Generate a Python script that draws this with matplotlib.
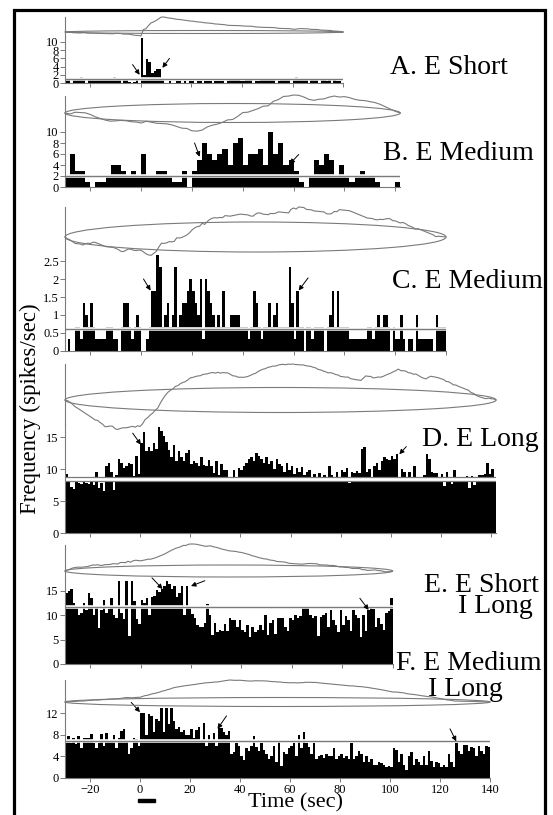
import numpy as np
import matplotlib
matplotlib.use("Agg")
import matplotlib.pyplot as plt
from matplotlib.patches import Ellipse, Rectangle
from matplotlib.transforms import blended_transform_factory

plt.rcParams['font.family'] = ['Liberation Serif', 'DejaVu Serif']

W, H = 553, 815

# ---- data (spike rates per bin) ----
bin_start = [-30, -30, -30, -30, -30, -30]
bin_width = [1, 2, 1, 1, 1, 1]

a_rate = [0.7, 0.7, 0.0, 0.7, 0.7, 0.7, 1.5, 0.7, 0.0, 0.7,
          0.7, 0.7, 0.7, 0.7, 0.7, 0.7, 0.7, 0.7, 0.7, 1.5,
          0.7, 0.7, 0.0, 0.7, 0.7, 0.3, 0.0, 0.3, 0.7, 0.0,
          11.0, 2.0, 5.8, 5.0, 2.5, 3.0, 3.5, 3.5, 1.0, 0.0,
          0.0, 0.5, 0.0, 0.0, 0.5, 0.5, 0.0, 0.5, 0.0, 0.5,
          0.5, 0.0, 0.5, 0.5, 0.0, 0.5, 0.5, 0.5, 0.0, 0.5,
          0.5, 0.5, 0.5, 0.0, 0.5, 0.7, 0.7, 0.7, 0.7, 0.5,
          0.5, 0.7, 0.7, 0.7, 0.0, 0.5, 0.5, 0.7, 0.7, 0.7,
          0.7, 0.7, 0.7, 0.0, 0.5, 0.7, 0.7, 0.7, 0.7, 0.0,
          0.7, 1.5, 1.2, 0.7, 0.7, 0.7, 0.0, 0.7, 0.7, 0.7,
          0.0, 0.7, 0.7, 0.5, 0.7, 0.0, 0.7, 0.5, 0.5, 0.0]

b_rate = [2, 6, 3, 3, 1, 0, 1, 1, 2, 4,
          4, 3, 2, 3, 2, 6, 2, 2, 3, 3,
          2, 1, 1, 3, 0, 3, 5, 8, 6, 5,
          6, 7, 4, 8, 9, 4, 6, 6, 7, 4,
          10, 6, 8, 4, 5, 3, 1, 0, 2, 5,
          4, 6, 5, 2, 4, 2, 1, 2, 3, 2,
          2, 1, 0, 0, 0, 1]

# panel C: spike counts summed over 3 trials, 1 s bins
c_counts = [0, 1, 0, 0, 2, 2, 1, 4, 3, 2,
            4, 2, 1, 1, 1, 1, 2, 2, 2, 1,
            1, 0, 2, 4, 4, 2, 1, 2, 3, 2,
            0, 0, 1, 2, 5, 5, 8, 7, 2, 3,
            4, 2, 3, 7, 2, 3, 4, 4, 5, 6,
            5, 4, 3, 6, 1, 6, 5, 4, 3, 2,
            3, 2, 5, 2, 2, 3, 3, 3, 3, 2,
            2, 2, 1, 2, 5, 4, 2, 1, 2, 2,
            4, 2, 3, 4, 2, 2, 2, 2, 7, 4,
            1, 5, 2, 2, 0, 2, 2, 1, 2, 2,
            2, 2, 0, 2, 3, 5, 2, 5, 2, 2,
            2, 2, 1, 1, 1, 1, 1, 1, 1, 2,
            2, 1, 2, 3, 2, 3, 3, 2, 0, 2,
            1, 1, 3, 1, 0, 1, 1, 0, 3, 1,
            1, 1, 1, 1, 1, 0, 3, 2, 2, 2]
c_trials = 3
c_rate = [n / c_trials for n in c_counts]

d_rate = [9.2, 8.0, 7.2, 6.8, 8.0, 7.8, 7.7, 8.0, 7.8, 7.6,
          7.9, 7.5, 9.6, 7.0, 7.8, 6.6, 10.4, 10.9, 9.6, 6.7,
          9.0, 11.5, 11.0, 10.2, 10.5, 11.0, 10.8, 8.9, 12.1, 9.2,
          14.0, 15.8, 12.8, 13.5, 12.8, 14.0, 13.2, 16.6, 16.0, 15.2,
          14.2, 13.0, 11.8, 13.8, 11.2, 12.8, 11.8, 11.2, 12.5, 12.9,
          10.8, 11.2, 11.0, 10.4, 11.8, 10.7, 10.5, 11.4, 10.5, 9.3,
          11.2, 9.0, 10.8, 9.8, 9.9, 8.2, 8.0, 9.8, 8.5, 10.1,
          9.9, 10.5, 11.0, 11.5, 11.8, 11.2, 12.5, 12.0, 11.5, 11.0,
          11.8, 10.8, 11.2, 10.0, 11.5, 10.8, 10.5, 9.5, 11.0, 9.8,
          10.5, 9.2, 10.2, 9.5, 10.3, 9.0, 9.5, 9.8, 8.8, 9.2,
          8.0, 9.4, 8.6, 9.0, 8.5, 10.5, 9.0, 8.5, 9.5, 8.0,
          9.8, 9.5, 10.2, 7.8, 9.6, 9.3, 9.7, 9.3, 13.1, 13.5,
          9.5, 10.0, 8.0, 10.5, 11.0, 9.8, 11.2, 11.9, 11.5, 11.4,
          12.0, 11.6, 12.3, 7.9, 10.0, 9.5, 8.0, 9.6, 8.4, 10.4,
          8.2, 7.9, 8.5, 9.0, 12.3, 11.6, 9.5, 9.3, 9.4, 8.7,
          9.2, 7.4, 9.6, 8.2, 7.6, 9.9, 8.3, 8.8, 8.7, 8.6,
          8.9, 7.0, 8.9, 7.5, 8.3, 9.0, 9.0, 9.2, 10.9, 9.2,
          10.0, 8.5]

e_rate = [14.5, 15.0, 15.5, 12.5, 12.0, 10.0, 10.5, 12.5, 11.0, 14.5,
          13.5, 10.0, 12.0, 7.3, 11.0, 13.2, 10.5, 11.3, 13.5, 10.0,
          9.5, 17.0, 10.5, 9.3, 17.0, 5.7, 17.0, 13.0, 9.3, 8.3,
          13.2, 12.5, 13.5, 10.0, 13.8, 14.0, 15.2, 14.8, 15.5, 16.0,
          17.0, 16.5, 15.5, 16.0, 13.8, 14.5, 16.0, 10.0, 16.0, 11.5,
          10.2, 9.5, 8.0, 7.5, 7.5, 8.5, 12.3, 10.0, 6.0, 8.5,
          6.5, 7.0, 6.8, 8.2, 6.8, 9.5, 9.0, 9.0, 7.5, 9.0,
          7.0, 6.5, 8.0, 5.5, 7.5, 6.5, 7.0, 8.0, 7.0, 10.0,
          6.0, 8.5, 9.0, 6.2, 9.5, 9.5, 9.5, 7.5, 6.8, 9.5,
          9.0, 10.0, 9.5, 9.8, 11.5, 11.5, 11.5, 10.0, 9.5, 9.8,
          5.7, 9.7, 10.0, 10.5, 7.7, 11.0, 9.0, 8.0, 6.5, 11.0,
          8.0, 9.8, 9.0, 6.8, 11.0, 10.0, 9.5, 5.5, 10.0, 6.8,
          11.0, 11.5, 11.3, 7.5, 9.5, 8.3, 7.0, 10.5, 10.8, 13.5]

f_rate = [6.5, 7.8, 6.5, 7.5, 6.3, 7.8, 5.5, 7.5, 7.5, 7.5,
          8.2, 6.5, 5.5, 6.5, 8.2, 6.0, 8.3, 6.8, 7.0, 8.0,
          5.5, 7.5, 8.7, 9.0, 7.0, 4.5, 5.5, 7.5, 7.3, 6.0,
          12.0, 12.0, 8.0, 11.8, 11.5, 8.5, 11.0, 10.5, 13.0, 8.5,
          13.0, 10.0, 13.0, 10.5, 9.0, 9.5, 8.5, 8.8, 8.0, 8.0,
          9.0, 7.5, 8.8, 9.5, 7.0, 10.2, 6.0, 8.0, 7.0, 8.3,
          6.0, 9.2, 9.2, 8.5, 8.0, 8.7, 4.5, 4.8, 6.5, 6.0,
          4.0, 3.3, 5.5, 5.0, 6.0, 7.8, 5.8, 5.0, 6.5, 5.2,
          4.5, 3.5, 4.0, 6.0, 3.0, 7.0, 2.2, 4.8, 4.5, 5.5,
          6.0, 6.5, 4.0, 8.0, 5.5, 8.5, 6.5, 5.8, 4.5, 6.5,
          3.5, 4.0, 4.2, 3.7, 4.5, 4.0, 4.0, 5.5, 3.5, 4.0,
          4.5, 3.7, 4.0, 3.5, 6.5, 3.5, 4.0, 5.0, 4.5, 3.0,
          4.0, 3.0, 3.5, 2.5, 2.5, 3.0, 2.8, 2.5, 2.0, 2.2,
          2.0, 5.5, 5.2, 3.0, 4.5, 2.5, 1.5, 4.0, 4.8, 2.5,
          3.5, 3.0, 2.5, 4.0, 2.5, 5.0, 3.2, 2.0, 3.0, 2.8,
          2.0, 2.5, 2.0, 4.5, 3.0, 2.0, 6.5, 5.0, 4.5, 6.2,
          6.2, 5.0, 5.8, 5.5, 4.0, 6.0, 5.0, 4.5, 6.0, 5.8]

rates = [a_rate, b_rate, c_rate, d_rate, e_rate, f_rate]
baseline = [1.0, 2.0, 0.6, (8.2, 8.7), 11.7, 6.9]

yticks = [[0, 2, 4, 6, 8, 10], [0, 2, 4, 6, 8, 10], [0, 0.5, 1, 1.5, 2, 2.5],
          [0, 5, 10, 15], [0, 5, 10, 15], [0, 4, 8, 12]]
ytick_labels = [['0', '2', '4', '6', '8', '10'], ['0', '2', '4', '6', '8', '10'],
                ['0', '0.5', '1', '1.5', '2', '2.5'], ['0', '5', '10', '15'],
                ['0', '5', '10', '15'], ['0', '4', '8', '12']]

# arrows: (head time, head rate, tail time, tail rate)
arrows = [[(-0.5, 2.0, -3.3, 4.5), (8.5, 3.7, 11.3, 6.0)],
          [(23, 5.5, 21, 8.0), (58.5, 4.2, 62, 5.9)],
          [(3.7, 1.68, 0.9, 2.0), (62, 1.68, 65.7, 2.03)],
          [(0.3, 13.8, -3, 15.6), (103.4, 12.3, 106.2, 13.5)],
          [(8.7, 15.4, 4.5, 17.7), (20, 16.0, 25.5, 17.1), (90.5, 11.1, 87, 13.5)],
          [(0, 12.2, -3.5, 14.0), (31, 9.1, 34.6, 11.5), (126.5, 6.8, 124, 9.1)]]

labels = [[('A. E Short', 390, 73.5)],
          [('B. E Medium', 383, 159.5)],
          [('C. E Medium', 392, 287.5)],
          [('D. E Long', 422, 446.5)],
          [('E. E Short', 424, 592.5), ('I Long', 458, 613)],
          [('F. E Medium', 396, 670.5), ('I Long', 428, 695.5)]]

stim = (-1, 6)

# ---- layout in pixels ----
# px per sec, hist zero y, px per unit, hist ymax, trace top, trace zero, trace peak, envelope half height
layout = [
    (2.53, 83, 4.1, 11.3, 17, 32, 17, 1.5),
    (2.54, 187, 5.5, 10.3, 96, 113, 95, 9.5),
    (2.54, 351, 36.0, 2.72, 207, 237, 207, 15),
    (2.506, 533, 6.4, 17.0, 364, 400, 364, 12.5),
    (2.52, 664, 4.87, 17.5, 545, 571, 544, 6),
    (2.5, 778, 5.4, 13.2, 680, 702, 680, 4.5),
]

GREY = '#7a7a7a'
X0 = 65


def px_box(x0, x1, ytop, ybot):
    return [x0 / W, 1 - ybot / H, (x1 - x0) / W, (ybot - ytop) / H]


fig = plt.figure(figsize=(W / 100, H / 100), dpi=100)

for i in range(6):
    pps, y0, ppu, ymax, t_top, t_zero, t_peak, hh = layout[i]
    vals = np.asarray(rates[i], dtype=float)
    bw = bin_width[i]
    edges = bin_start[i] + bw * np.arange(len(vals) + 1)
    xlo, xhi = edges[0], edges[-1]
    x1 = X0 + (xhi - xlo) * pps
    h_top = y0 - ymax * ppu

    # histogram
    ax = fig.add_axes(px_box(X0, x1, h_top, y0))
    ax.stairs(vals, edges, fill=True, color='black', lw=0)
    ax.set_xlim(xlo, xhi)
    ax.set_ylim(0, ymax)
    for s in ['top', 'right']:
        ax.spines[s].set_visible(False)
    for s in ['left', 'bottom']:
        ax.spines[s].set_color(GREY)
        ax.spines[s].set_linewidth(0.8)
    ax.set_yticks(yticks[i])
    ax.set_yticklabels(ytick_labels[i])
    ax.set_xticks(list(range(-20, int(xhi) + 1, 20)))
    ax.tick_params(axis='y', direction='out', length=3.5, width=0.7, color=GREY,
                   labelsize=9, pad=1)
    ax.tick_params(axis='x', direction='out', length=3, width=0.7, color=GREY,
                   labelsize=9, pad=1, labelbottom=(i == 5))
    ax.set_facecolor('none')

    b = baseline[i]
    if isinstance(b, tuple):
        ax.axhspan(b[0], b[1], color='white', lw=0)
        ax.axhline(b[0], color=GREY, lw=0.9)
        ax.axhline(b[1], color=GREY, lw=0.9)
    else:
        ax.axhline(b, color='white', lw=2.6)
        ax.axhline(b, color=GREY, lw=1.0)

    for ht, hv, tt, tv in arrows[i]:
        ax.annotate('', xy=(ht, hv), xytext=(tt, tv), annotation_clip=False,
                    arrowprops=dict(arrowstyle='-|>', color='black', lw=0.7,
                                    mutation_scale=7, shrinkA=0, shrinkB=0))

    # cumulative sum trace above
    tax = fig.add_axes(px_box(X0, x1, t_top, h_top))
    csum = np.concatenate([[0.0], np.cumsum((vals - vals.mean()) * bw)])
    scale = (t_zero - t_peak) / csum.max()
    tax.set_xlim(xlo, xhi)
    tax.set_ylim(-(h_top - t_zero) / scale, (t_zero - t_top) / scale)
    tax.add_patch(Ellipse(((xlo + xhi) / 2, 0), xhi - xlo, 2 * hh / scale,
                          fill=False, ec=GREY, lw=0.8, clip_on=False))
    tax.plot(edges, csum, color=GREY, lw=0.8, clip_on=False)
    for s in ['top', 'right', 'bottom']:
        tax.spines[s].set_visible(False)
    tax.spines['left'].set_color(GREY)
    tax.spines['left'].set_linewidth(0.8)
    tax.set_xticks([])
    tax.set_yticks([])
    tax.set_facecolor('none')

    for txt, lx, ly in labels[i]:
        fig.text(lx / W, 1 - ly / H, txt, fontsize=20, ha='left', va='baseline')

    if i == 5:
        tr = blended_transform_factory(ax.transData, fig.transFigure)
        fig.add_artist(Rectangle((stim[0], 1 - 802 / H), stim[1] - stim[0], 3.5 / H,
                                 color='black', transform=tr))

fig.text(30 / W, 1 - 409 / H, 'Frequency (spikes/sec)', rotation=90,
         ha='center', va='center', fontsize=16.5)
fig.text(296 / W, 1 - 807 / H, 'Time (sec)', ha='center', va='baseline', fontsize=16)

fig.add_artist(Rectangle((13.5 / W, 1 - 822 / H), 531 / W, 812 / H, fill=False,
                         ec='black', lw=2.3, transform=fig.transFigure, clip_on=False))

fig.savefig('out.png', dpi=100)
